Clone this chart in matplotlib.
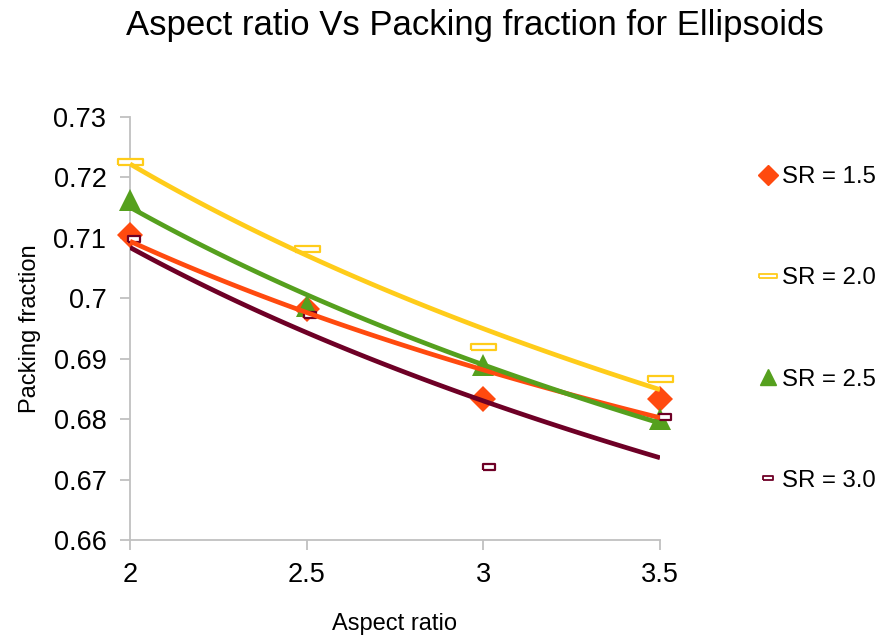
import numpy as np
import matplotlib.pyplot as plt
from matplotlib.lines import Line2D

plt.rcParams['font.family'] = ['Liberation Sans', 'DejaVu Sans']

# data
aspect = [2.0, 2.5, 3.0, 3.5]
sr_15 = [0.7104, 0.6983, 0.6834, 0.6834]
sr_20 = [0.7225, 0.7081, 0.6919, 0.6867]
sr_25 = [0.7162, 0.6988, 0.6889, 0.6801]
sr_30_x = [2.01, 2.51, 3.015, 3.515]
sr_30 = [0.7098, 0.6972, 0.6721, 0.6804]

labels = ['SR = 1.5', 'SR = 2.0', 'SR = 2.5', 'SR = 3.0']
yticks = [0.66, 0.67, 0.68, 0.69, 0.70, 0.71, 0.72, 0.73]
ytick_labels = ['0.66', '0.67', '0.68', '0.69', '0.7', '0.71', '0.72', '0.73']
xticks = [2, 2.5, 3, 3.5]
xtick_labels = ['2', '2.5', '3', '3.5']

c_orange = '#FF4A0F'
c_yellow = '#FFCC1A'
c_green = '#55A01E'
c_maroon = '#6E0026'

# wide flat rectangle markers
rect_wide = [(-1, -0.22), (1, -0.22), (1, 0.22), (-1, 0.22), (-1, -0.22)]
rect_small = [(-1, -0.45), (1, -0.45), (1, 0.45), (-1, 0.45), (-1, -0.45)]

fig = plt.figure(figsize=(8.85, 6.43), dpi=100)
ax = fig.add_axes([130 / 885, 1 - 540 / 643, 530 / 885, 423 / 643])


def power_trend(x, y):
    # excel style power trendline y = a*x^b
    b, loga = np.polyfit(np.log(x), np.log(y), 1)
    xs = np.linspace(min(aspect), max(aspect), 100)
    return xs, np.exp(loga) * xs ** b


series = [
    (aspect, sr_15, c_orange, 'D', 13, 0, c_orange),
    (aspect, sr_20, c_yellow, rect_wide, 18, 1.6, 'white'),
    (aspect, sr_25, c_green, '^', 16, 0, c_green),
    (sr_30_x, sr_30, c_maroon, rect_small, 9, 1.6, 'white'),
]

for x, y, col, mk, ms, mew, fc in series:
    ax.plot(x, y, ls='none', marker=mk, markersize=ms, markerfacecolor=fc,
            markeredgecolor=col, markeredgewidth=mew, clip_on=False, zorder=3)

for x, y, col, mk, ms, mew, fc in series:
    xs, ys = power_trend(aspect, y)
    ax.plot(xs, ys, color=col, lw=3.4, solid_capstyle='butt', zorder=4)

ax.set_xlim(2, 3.5)
ax.set_ylim(0.66, 0.73)
ax.set_xticks(xticks)
ax.set_xticklabels(xtick_labels)
ax.set_yticks(yticks)
ax.set_yticklabels(ytick_labels)

for s in ['top', 'right']:
    ax.spines[s].set_visible(False)
for s in ['left', 'bottom']:
    ax.spines[s].set_color('#C0C0C0')
    ax.spines[s].set_linewidth(1.3)
ax.tick_params(axis='both', direction='out', length=7, width=1.3, color='#C0C0C0',
               labelsize=19.5, colors='black')
ax.tick_params(axis='y', pad=10)
ax.tick_params(axis='x', pad=9)
for t in ax.get_xticklabels() + ax.get_yticklabels():
    t.set_color('black')

ax.set_xlabel('Aspect ratio', fontsize=17, labelpad=18)
ax.set_ylabel('Packing fraction', fontsize=17, labelpad=9)

fig.text(475 / 885, 1 - 25 / 643, 'Aspect ratio Vs Packing fraction for Ellipsoids',
         ha='center', va='center', fontsize=25)

handles = [
    Line2D([], [], ls='none', marker='D', markersize=10, color=c_orange),
    Line2D([], [], ls='none', marker=rect_wide, markersize=13, markerfacecolor='white',
           markeredgecolor=c_yellow, markeredgewidth=1.3),
    Line2D([], [], ls='none', marker='^', markersize=12, color=c_green),
    Line2D([], [], ls='none', marker=rect_small, markersize=7, markerfacecolor='white',
           markeredgecolor=c_maroon, markeredgewidth=1.3),
]
fig.legend(handles, labels, loc='upper left', bbox_to_anchor=(760 / 885, 1 - 166 / 643),
           frameon=False, fontsize=17.3, labelspacing=3.3, handlelength=0.7,
           handletextpad=0.2, borderpad=0, borderaxespad=0)

fig.savefig('out.png', dpi=100, facecolor='white')
